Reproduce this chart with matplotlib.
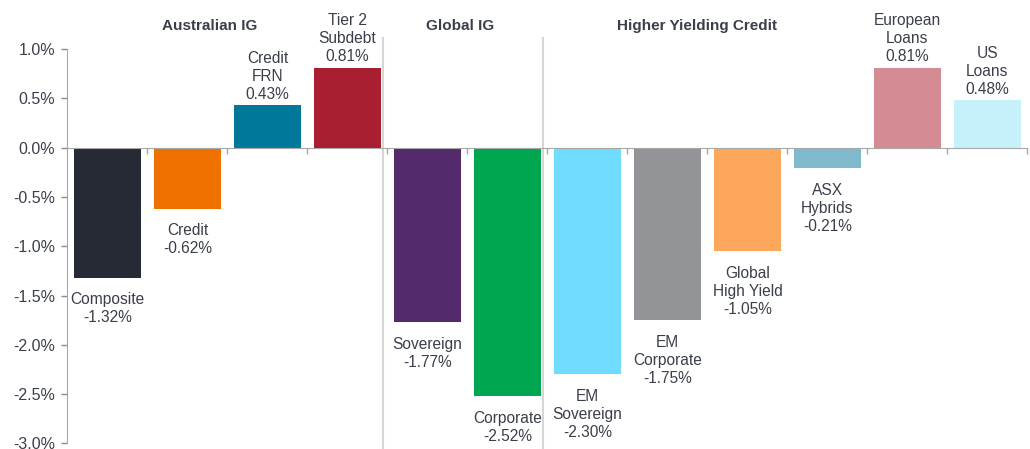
import matplotlib.pyplot as plt
import numpy as np

plt.rcParams['font.family'] = ['Liberation Sans', 'DejaVu Sans']

labels = ['Composite', 'Credit', 'Credit\nFRN', 'Tier 2\nSubdebt', 'Sovereign', 'Corporate',
          'EM\nSovereign', 'EM\nCorporate', 'Global\nHigh Yield', 'ASX\nHybrids',
          'European\nLoans', 'US\nLoans']
values = [-1.32, -0.62, 0.43, 0.81, -1.77, -2.52, -2.30, -1.75, -1.05, -0.21, 0.81, 0.48]
colors = ['#262a35', '#f07000', '#00789a', '#a91e30', '#532a6b', '#00a650',
          '#70dcff', '#939498', '#fda75d', '#80b8cc', '#d48b94', '#c6f1fb']
groups = ['Australian IG', 'Global IG', 'Higher Yielding Credit']
group_x = [1.28, 4.41, 7.37]
dividers = [3.44, 5.44]

txt = '#3a3f4a'
fig = plt.figure(figsize=(10.3, 4.49), dpi=100)
ax = fig.add_axes([0.0655, 0.0127, 0.932, 0.8777])

x = np.arange(len(values))
ax.bar(x, values, width=0.84, color=colors, zorder=2)

for xi, v, lab in zip(x, values, labels):
    s = lab + '\n' + '%.2f%%' % v
    if v >= 0:
        ax.annotate(s, (xi, v), xytext=(0, 2.5), textcoords='offset points',
                    ha='center', va='bottom', fontsize=11.2, color=txt, linespacing=1.25)
    else:
        ax.annotate(s, (xi, v), xytext=(0, -10.5), textcoords='offset points',
                    ha='center', va='top', fontsize=11.2, color=txt, linespacing=1.25)

for gx, g in zip(group_x, groups):
    ax.text(gx, 1.235, g, ha='center', va='center', fontsize=11, fontweight='bold',
            color=txt, clip_on=False)

for d in dividers:
    ax.plot([d, d], [-3.05, 1.11], color='#d6d6d6', lw=1.5, clip_on=False, zorder=1)

ax.set_xlim(-0.5, 11.5)
ax.set_ylim(-3.0, 1.0)
ax.set_yticks(np.arange(-3.0, 1.01, 0.5))
ax.set_yticklabels(['%.1f%%' % t for t in np.arange(-3.0, 1.01, 0.5)])
ax.tick_params(axis='y', colors='#8a8a8a', labelcolor=txt, labelsize=11.5, length=4, width=1, pad=5)

ax.spines['top'].set_visible(False)
ax.spines['right'].set_visible(False)
ax.spines['bottom'].set_position(('data', 0))
ax.spines['bottom'].set_color('#a8a8a8')
ax.spines['left'].set_color('#a8a8a8')
ax.spines['bottom'].set_zorder(3)
ax.set_xticks(np.arange(0.5, 11.6, 1.0))
ax.set_xticklabels([])
ax.tick_params(axis='x', colors='#a8a8a8', length=4, width=1, direction='out')

fig.savefig('out.png', dpi=100)
